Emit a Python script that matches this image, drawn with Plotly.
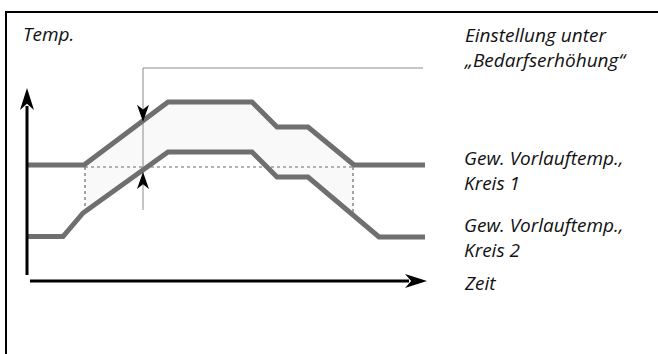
import numpy as np
import plotly.graph_objects as go

# ---- data (units = drawing units of the diagram) ----
time_k1 = [28, 84, 168, 252, 277, 308, 354, 425]
temp_k1 = [165, 165, 102, 102, 127, 127, 165, 165]
time_k2 = [28, 63, 83, 168, 252, 277, 308, 379, 425]
temp_k2 = [236.5, 236.5, 213, 152, 152, 177, 177, 237, 237]

boost_start, boost_end = 85, 353       # dotted reference window
boost_level = 167                      # dotted reference level
setting_x = 143                        # "Bedarfserhöhung" marker
setting_top, setting_bottom = 68, 210
setting_label_end = 423

axis_origin_x, axis_origin_y = 27, 281
y_axis_top, y_axis_bottom = 88, 275
x_axis_start, x_axis_end = 30, 427

frame_x = [6, 6, 658]
frame_y = [354, 12, 12]

labels = ["Temp.", "Einstellung unter<br>„Bedarfserhöhung“",
          "Gew. Vorlauftemp.,<br>Kreis 1", "Gew. Vorlauftemp.,<br>Kreis 2", "Zeit"]
label_x = [21, 462, 462, 462, 462]
label_y = [34, 47, 170, 237.5, 282.5]

W, H = 658, 354
LINE = "#6f6f6f"

fig = go.Figure()

# light fill between the two curves inside the window (as a path shape)
up_x = [boost_start] + [t for t in time_k1 if boost_start < t < boost_end + 1] + [boost_end + 1]
up_y = list(np.interp(up_x, time_k1, temp_k1))
lo_x = [boost_end + 1] + [t for t in time_k2 if boost_start < t < boost_end + 1][::-1] + [boost_start]
lo_y = list(np.interp(lo_x, time_k2, temp_k2))
fill_path = "M " + " L ".join(f"{x:.2f},{y:.2f}" for x, y in zip(up_x + lo_x, up_y + lo_y)) + " Z"

# dotted reference lines
dot = dict(color="#6a6a6a", width=1.2, dash="dot")
fig.add_trace(go.Scatter(x=[boost_start, boost_end], y=[boost_level, boost_level],
                         mode="lines", line=dot))
for bx in (boost_start, boost_end):
    fig.add_trace(go.Scatter(x=[bx, bx], y=[boost_level, float(np.interp(bx, time_k2, temp_k2)) - 2],
                             mode="lines", line=dot))

# thin setting line
fig.add_trace(go.Scatter(x=[setting_label_end, setting_x, setting_x],
                         y=[setting_top, setting_top, setting_bottom],
                         mode="lines", line=dict(color="#8c8c8c", width=1)))

# the two flow-temperature curves
fig.add_trace(go.Scatter(x=time_k1, y=temp_k1, mode="lines", line=dict(color=LINE, width=5)))
fig.add_trace(go.Scatter(x=time_k2, y=temp_k2, mode="lines", line=dict(color=LINE, width=5)))

# axes shafts
fig.add_trace(go.Scatter(x=[axis_origin_x, axis_origin_x], y=[y_axis_bottom, y_axis_top + 18],
                         mode="lines", line=dict(color="black", width=3)))
fig.add_trace(go.Scatter(x=[x_axis_start, x_axis_end - 18], y=[axis_origin_y, axis_origin_y],
                         mode="lines", line=dict(color="black", width=3)))

# frame (left + top)
fig.add_trace(go.Scatter(x=frame_x, y=frame_y, mode="lines", line=dict(color="black", width=2)))


def head(tx, ty, dx, dy, length, width):
    # dx,dy: unit direction the arrow points to
    bx, by = tx - dx * length, ty - dy * length
    px, py = -dy, dx
    nx, ny = tx - dx * length * 0.72, ty - dy * length * 0.72
    pts = [(tx, ty), (bx + px * width / 2, by + py * width / 2), (nx, ny),
           (bx - px * width / 2, by - py * width / 2)]
    return "M " + " L ".join(f"{x:.2f},{y:.2f}" for x, y in pts) + " Z"


up_tip = float(np.interp(setting_x, time_k2, temp_k2)) + 2
down_tip = float(np.interp(setting_x, time_k1, temp_k1)) + 1
heads = [
    head(axis_origin_x, y_axis_top, 0, -1, 22, 14),
    head(x_axis_end, axis_origin_y, 1, 0, 22, 14),
    head(setting_x, down_tip, 0, 1, 17, 12),
    head(setting_x, up_tip, 0, -1, 17, 12),
]
shapes = [dict(type="path", path=fill_path, xref="x", yref="y", fillcolor="#f9f9f9",
               line=dict(width=0), layer="below")]
shapes += [dict(type="path", path=p, xref="x", yref="y", fillcolor="black",
                line=dict(width=0)) for p in heads]

annotations = [dict(x=x, y=y, text=t, xref="x", yref="y", xanchor="left", yanchor="middle",
                    showarrow=False, align="left",
                    font=dict(family="Open Sans", size=19, color="#111"))
               for t, x, y in zip(labels, label_x, label_y)]
for a in annotations:
    a["text"] = "<i>" + a["text"].replace("<br>", "</i><br><i>") + "</i>"

fig.update_layout(
    width=W, height=H, margin=dict(l=0, r=0, t=0, b=0),
    paper_bgcolor="white", plot_bgcolor="white", showlegend=False,
    xaxis=dict(range=[0, W], visible=False, fixedrange=True),
    yaxis=dict(range=[H, 0], visible=False, fixedrange=True),
    shapes=shapes, annotations=annotations,
)
fig.write_html("out.html", config={"displayModeBar": False, "staticPlot": True},
               post_script=("document.documentElement.style.margin='0';"
                            "document.documentElement.style.overflow='hidden';"
                            "document.body.style.margin='0';document.body.style.overflow='hidden';"))
